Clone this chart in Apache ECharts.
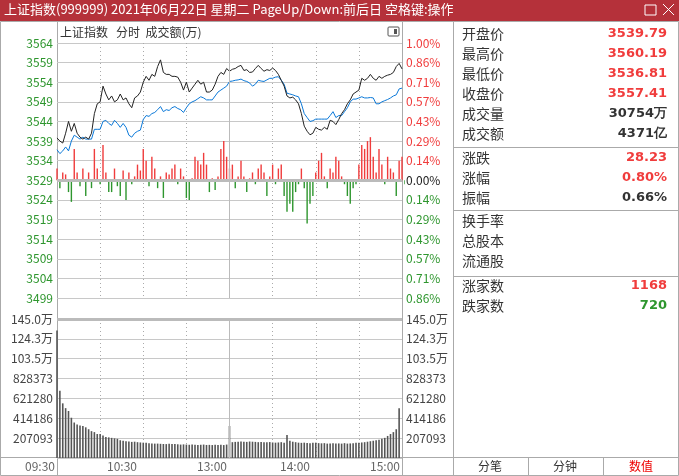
<!DOCTYPE html>
<html><head><meta charset="utf-8">
<script src="https://cdn.jsdelivr.net/npm/echarts@6/dist/echarts.min.js"></script>
<style>html,body{margin:0;padding:0;background:#fff}#c{width:679px;height:476px}</style>
</head><body><div id="c"></div>
<script>
const BASE = 3529;
const priceLine = [3539.8,3539,3538.5,3541,3544,3541.5,3543.5,3541,3540,3539.5,3540,3539.5,3541,3546,3548.5,3549,3553,3551,3549.5,3550.5,3549,3549.5,3551,3549.5,3550,3548.5,3547.5,3550,3550.5,3551.5,3554,3555.5,3554.5,3556,3555.5,3558,3559.7,3556.5,3556,3556,3555.5,3555.5,3555.3,3554,3552,3554,3551.5,3552.5,3553.5,3554.5,3553.5,3554,3551.5,3551.5,3552,3553.5,3555.5,3556.5,3556,3557.5,3556.8,
3557.3,3557.5,3558,3558.3,3557,3557.2,3556.5,3556.6,3557.5,3558.3,3557.5,3556.8,3557.2,3557,3557.6,3557,3556,3554.5,3553,3550.5,3550,3550.2,3549.5,3548.5,3546,3542.8,3541.5,3540.6,3541,3542.5,3542,3541.8,3542.5,3542,3544.3,3544,3543.2,3544.5,3546,3547,3548.5,3549.5,3551,3551.5,3552,3555,3554.5,3555,3556,3555,3554.5,3555.5,3555,3555.5,3555.8,3556,3556.5,3558,3558.8,3557.4];
const avgLine = [3536.8,3535.8,3536.5,3537.5,3536.5,3539,3540.5,3540,3539.5,3540,3539.5,3539.5,3539.5,3542,3542,3542,3544,3544.3,3543.5,3543,3544.3,3543.5,3542.5,3543.5,3542.5,3540.5,3540,3541,3541.5,3541.8,3544.5,3545.5,3545.3,3546,3546.3,3547,3547.8,3546.5,3547,3546.8,3547.5,3547.8,3547.3,3547,3546.3,3547.5,3548.5,3549,3549.3,3549.8,3550.3,3550,3549.5,3549.5,3549.5,3550.5,3551.5,3552,3552.5,3553,3554.2,
3554.3,3554.5,3554.6,3554.8,3554.4,3554.2,3553.8,3553,3553.5,3554.5,3554.3,3554.2,3554.6,3555,3555,3555.3,3555.4,3554.5,3553.5,3551.2,3551,3550.8,3550.5,3550.3,3548.5,3546,3545,3544,3544.2,3544.6,3544.6,3544.6,3544.6,3544.6,3545.5,3546.5,3545,3545.5,3545.5,3546.5,3547.5,3549,3549.7,3549.7,3550,3550.3,3550,3550,3550.1,3550,3548.5,3548.5,3549,3549.3,3549.6,3550,3550.5,3550.8,3552.3,3552.5];
const breadth = [3,-2,2,1.5,-3,-5.5,8,2,-1.5,3,-4,2,-2,8,3,-1,9,2,-3,-3,3,-1.5,-4,2.5,-5,2,-1,1,4,2.5,8,5,-1.5,6,3,-2,1,-4.5,2,1.5,3,4,-1,3,1,-4.5,-5,0.5,6,5,4,7,4,-3,0.5,-2.5,1,8,10,6,3,
4,-2,1,5,1,-3,0.5,2,-1,3,4,2,-4,1,4,-1,3,4,-4,-8,-6,-8,-3,-1,3,-2,-11,-6,-4,2,5,7,1,-2,3,2,6,5,1,-1,-4,-6,-2,-1,4,9,8,10,11,6,2,8,4,-1,6,3,2,-4,5,6,-1,4,9,7,5];
const volume = [1330000,702000,570000,520000,490000,420000,370000,350000,340000,335000,320000,300000,280000,270000,250000,250000,235000,220000,215000,210000,205000,200000,185000,180000,175000,172000,168000,170000,165000,162000,160000,158000,155000,152000,150000,150000,148000,146000,145000,148000,146000,145000,143000,140000,142000,140000,138000,140000,138000,136000,138000,140000,136000,137000,135000,138000,136000,137000,135000,140000,334000,165000,168000,170000,172000,170000,168000,172000,170000,168000,165000,168000,165000,163000,166000,162000,160000,162000,165000,160000,240000,180000,170000,165000,160000,158000,160000,156000,155000,158000,160000,155000,153000,155000,150000,152000,155000,150000,152000,150000,155000,150000,152000,155000,158000,160000,162000,165000,170000,175000,180000,185000,190000,200000,210000,230000,250000,270000,300000,520000];
const pctLabels = ['1.00%','0.86%','0.71%','0.57%','0.43%','0.29%','0.14%','0.00%','0.14%','0.29%','0.43%','0.57%','0.71%','0.86%'];
const volLabels = ['','207093','414186','621280','828373','103.5万','124.3万','145.0万'];
const timeLabels = ['09:30','10:30','13:00','14:00','15:00'];
const infoRows = [['开盘价','3539.79','#f03c3c'],['最高价','3560.19','#f03c3c'],['最低价','3536.81','#f03c3c'],['收盘价','3557.41','#f03c3c'],['成交量','30754万','#333'],['成交额','4371亿','#333'],['涨跌','28.23','#f03c3c'],['涨幅','0.80%','#f03c3c'],['振幅','0.66%','#333'],['换手率','',''],['总股本','',''],['流通股','',''],['涨家数','1168','#f03c3c'],['跌家数','720','#2e962e']];
const infoY = [34,54,74,94,114,134,158,178,198,221,241,261,286,306];

const RED='#f03c3c', GREEN='#2e962e', GRID='#c8c8c8', F='"Noto Sans CJK SC", sans-serif';
const n = priceLine.length;
const cats = priceLine.map((_, i) => i);
const colorFor = v => v > 0 ? RED : (v < 0 ? GREEN : '#222');

const chart = echarts.init(document.getElementById('c'));
const g = [];
g.push({type:'rect', shape:{x:0,y:0,width:679,height:21}, style:{fill:'#b5313a'}});
g.push({type:'text', left:4, top:3, style:{text:'上证指数(999999) 2021年06月22日 星期二 PageUp/Down:前后日 空格键:操作', fill:'#fff', font:'13px '+F}});
g.push({type:'rect', shape:{x:645,y:5,width:11,height:10}, style:{fill:'none',stroke:'#fff',lineWidth:1}});
g.push({type:'line', shape:{x1:663,y1:4,x2:674,y2:15}, style:{stroke:'#fff',lineWidth:1}});
g.push({type:'line', shape:{x1:674,y1:4,x2:663,y2:15}, style:{stroke:'#fff',lineWidth:1}});
g.push({type:'rect', shape:{x:0.5,y:21.5,width:678,height:454}, style:{fill:'none',stroke:'#aaa'}});
g.push({type:'line', shape:{x1:453.5,y1:21,x2:453.5,y2:476}, style:{stroke:'#aaa'}});
g.push({type:'line', shape:{x1:57.5,y1:21,x2:57.5,y2:476}, style:{stroke:'#aaa'}});
g.push({type:'line', shape:{x1:402.5,y1:21,x2:402.5,y2:476}, style:{stroke:'#aaa'}});
g.push({type:'line', shape:{x1:0,y1:457.5,x2:679,y2:457.5}, style:{stroke:'#aaa'}});
[147,210,276].forEach(y=>g.push({type:'line', shape:{x1:454,y1:y+0.5,x2:679,y2:y+0.5}, style:{stroke:'#aaa'}}));
[528,603].forEach(x=>g.push({type:'line', shape:{x1:x+0.5,y1:457,x2:x+0.5,y2:476}, style:{stroke:'#aaa'}}));
[['分笔',490,'#333'],['分钟',565,'#333'],['数值',641,'#e00']].forEach(t=>g.push({type:'text', x:t[1], y:466, style:{text:t[0], fill:t[2], font:'12px '+F, align:'center', verticalAlign:'middle'}}));
g.push({type:'text', x:60, y:32, style:{text:'上证指数   分时  成交额(万)', fill:'#333', font:'12px '+F, verticalAlign:'middle'}});
g.push({type:'rect', shape:{x:388,y:27,width:11,height:9,r:1}, style:{fill:'#fff',stroke:'#555'}});
g.push({type:'rect', shape:{x:394,y:29,width:3,height:5}, style:{fill:'#555'}});
const tx = [40,122,212,295,385];
timeLabels.forEach((t,i)=>g.push({type:'text', x:tx[i], y:466, style:{text:t, fill:'#666', font:'12px '+F, align:'center', verticalAlign:'middle'}}));
infoRows.forEach((r,i)=>{
  g.push({type:'text', x:462, y:infoY[i], style:{text:r[0], fill:'#333', font:'14px '+F, verticalAlign:'middle'}});
  if (r[1]) g.push({type:'text', x:667, y:infoY[i], style:{text:r[1], fill:r[2], font:'bold 13px "DejaVu Sans", sans-serif', align:'right', verticalAlign:'middle'}});
});

chart.setOption({
  animation:false,
  graphic: g,
  grid:[{left:57,top:43,width:345,height:255},{left:57,top:319,width:345,height:139}],
  xAxis:[0,1].map(k=>({type:'category', gridIndex:k, data:cats, boundaryGap:false,
    axisLine:{show:false}, axisTick:{show:false}, axisLabel:{show:false},
    splitLine:{show:true, interval:(i)=> i%15===0 && i!==0 && i!==60 && i!==120, lineStyle:{color:'#aaa',type:[1,3]}}})),
  yAxis:[
    {type:'value', gridIndex:0, min:-30, max:35, interval:5, position:'left',
     axisLine:{show:false}, axisTick:{show:false},
     splitLine:{lineStyle:{color:GRID}},
     axisLabel:{margin:4, fontSize:12, fontFamily:F, formatter:v=>String(v+BASE), color:(v)=>colorFor(+v - BASE)}},
    {type:'value', gridIndex:0, min:-30, max:35, interval:5, position:'right',
     axisLine:{show:false}, axisTick:{show:false}, splitLine:{show:false},
     axisLabel:{margin:4, fontSize:12, fontFamily:F, formatter:v=>pctLabels[(35-v)/5], color:(v,i)=>{const s=pctLabels[13-i]; const idx=13-i; return idx<7?RED:(idx===7?'#222':GREEN);}}},
    {type:'value', gridIndex:1, min:0, max:1449651, interval:207093, position:'left',
     axisLine:{show:false}, axisTick:{show:false}, splitLine:{lineStyle:{color:GRID}},
     axisLabel:{margin:4, fontSize:12, fontFamily:F, color:'#444', formatter:v=>volLabels[Math.round(v/207093)]}},
    {type:'value', gridIndex:1, min:0, max:1449651, interval:207093, position:'right',
     axisLine:{show:false}, axisTick:{show:false}, splitLine:{show:false},
     axisLabel:{margin:4, fontSize:12, fontFamily:F, color:'#444', formatter:v=>volLabels[Math.round(v/207093)]}}
  ],
  series:[
    {type:'bar', xAxisIndex:0, yAxisIndex:0, barWidth:1.4, data:breadth.map(v=>({value:v, itemStyle:{color:v>=0?RED:GREEN}})),
     markLine:{silent:true, symbol:'none', label:{show:false}, lineStyle:{color:'#bbb',type:'solid',width:1},
       data:[{xAxis:60},{yAxis:0, lineStyle:{color:'#bbb',width:3}}]}},
    {type:'line', xAxisIndex:0, yAxisIndex:0, data:avgLine.map(v=>v-BASE), showSymbol:false, lineStyle:{color:'#0a78d8',width:1}},
    {type:'line', xAxisIndex:0, yAxisIndex:0, data:priceLine.map(v=>v-BASE), showSymbol:false, lineStyle:{color:'#222',width:1}},
    {type:'bar', xAxisIndex:1, yAxisIndex:2, barWidth:1.6, data:volume, itemStyle:{color:'#555'},
     markLine:{silent:true, symbol:'none', label:{show:false}, lineStyle:{color:'#bbb',type:'solid',width:1},
       data:[{xAxis:60},{yAxis:1449651, lineStyle:{color:'#bbb',width:3}}]}}
  ]
});
</script></body></html>
